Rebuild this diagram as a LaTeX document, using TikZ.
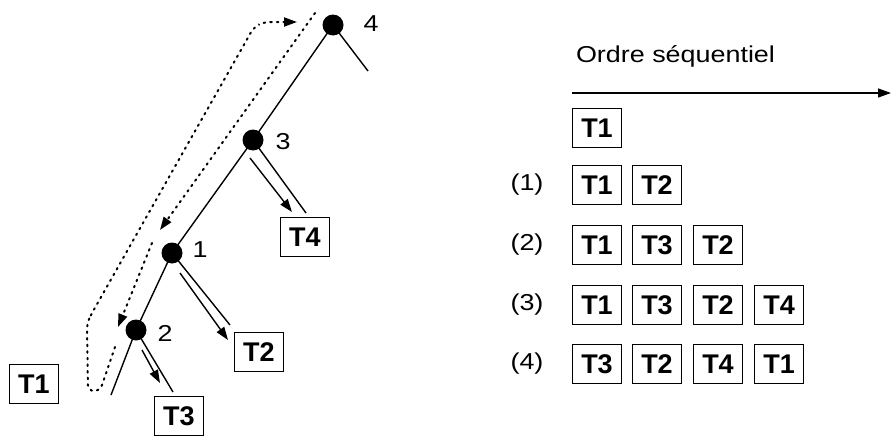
\documentclass[tikz,border=0pt]{standalone}
\usepackage{fontspec}
\setmainfont[FakeStretch=1.17]{Liberation Sans}
\newfontfamily\taskfont{Liberation Sans}
\usepackage{tikz}
\usetikzlibrary{positioning,arrows.meta}

\begin{document}
\begin{tikzpicture}[x=1pt, y=-1pt,
        tbox/.style={draw, rectangle, line width=1.4pt, minimum width=49pt, minimum height=39pt, inner sep=0pt, font=\taskfont\fontsize{27}{30}\selectfont\bfseries},
        dot/.style={circle, fill, inner sep=0pt, minimum size=21pt},
        lbl/.style={font=\fontsize{23}{27}\selectfont},
        tip/.style={-{Triangle[length=13pt, width=9pt]}},
        trav/.style={line width=2pt, dash pattern=on 1.6pt off 5pt, line cap=round},
        line width=1.4pt]
            \useasboundingbox (0,0) rectangle (892,439);

            %% Tree
            % Nodes of the tree with their numbers
            \node[dot] (n4) at (333, 25) {};
            \node[dot] (n3) at (253, 140) {};
            \node[dot] (n1) at (172, 253) {};
            \node[dot] (n2) at (136, 330) {};
            \node[lbl] (n4_num) at (371, 24) {4};
            \node[lbl] (n3_num) at (283, 142) {3};
            \node[lbl] (n1_num) at (200, 250) {1};
            \node[lbl] (n2_num) at (165, 333) {2};

            % Tasks attached to the tree
            \node[tbox] (t4) at (305, 237) {T4};
            \node[tbox] (t2) at (259, 352) {T2};
            \node[tbox] (t3) at (179, 416) {T3};
            \node[tbox] (t1) at (34, 384) {T1};

            % Free ends of the branches
            \coordinate (leaf4) at (368, 71);
            \coordinate (leaf2) at (111, 395);
            \coordinate (end3) at (306, 213);
            \coordinate (end1) at (230, 325);
            \coordinate (end2) at (173, 392);

            % Branches
            \draw (n4.center) -- (n3.center) -- (n1.center) -- (n2.center) -- (leaf2);
            \draw (n4.center) -- (leaf4);
            \draw (n3.center) -- (end3);
            \draw (n1.center) -- (end1);
            \draw (n2.center) -- (end2);

            % Arrows along the branches towards the tasks
            \coordinate (go3) at (250, 158);
            \coordinate (to4) at (292, 212);
            \coordinate (go1) at (180, 273);
            \coordinate (to2) at (228, 340);
            \coordinate (go2) at (142, 350);
            \coordinate (to3) at (160, 383);
            \draw[tip] (go3) -- (to4);
            \draw[tip] (go1) -- (to2);
            \draw[tip] (go2) -- (to3);

            %% Traversal (dotted)
            \coordinate (down_a) at (315, 13);
            \coordinate (down_b) at (160, 230);
            \coordinate (down_c) at (152, 243);
            \coordinate (down_d) at (118, 327);
            \coordinate (up_a) at (115, 347);
            \coordinate (up_b) at (297, 22);
            \draw[trav, tip] (down_a) -- (down_b);
            \draw[trav, tip] (down_c) -- (down_d);
            \draw[trav, tip, rounded corners=6pt] (up_a) -- (100, 391) -- (88, 391) -- (87, 323) -- (92, 313) -- (254, 27) -- (264, 22) -- (up_b);

            %% Sequential order
            \node[lbl, anchor=base west] (title) at (572, 62) {Ordre séquentiel};
            \coordinate (axis_a) at (572, 93);
            \coordinate (axis_b) at (891, 93);
            \draw[tip] (axis_a) -- (axis_b);

            % Start
            \node[tbox] (s0_a) at (597, 128) {T1};

            % Step (1)
            \node[lbl] (s1) at (527, 185) {(1)};
            \node[tbox] (s1_a) at (597, 185) {T1};
            \node[tbox] (s1_b) at (657, 185) {T2};

            % Step (2)
            \node[lbl] (s2) at (527, 245) {(2)};
            \node[tbox] (s2_a) at (597, 245) {T1};
            \node[tbox] (s2_b) at (657, 245) {T3};
            \node[tbox] (s2_c) at (718, 245) {T2};

            % Step (3)
            \node[lbl] (s3) at (527, 305) {(3)};
            \node[tbox] (s3_a) at (597, 305) {T1};
            \node[tbox] (s3_b) at (657, 305) {T3};
            \node[tbox] (s3_c) at (718, 305) {T2};
            \node[tbox] (s3_d) at (779, 305) {T4};

            % Step (4)
            \node[lbl] (s4) at (527, 364) {(4)};
            \node[tbox] (s4_a) at (597, 364) {T3};
            \node[tbox] (s4_b) at (657, 364) {T2};
            \node[tbox] (s4_c) at (718, 364) {T4};
            \node[tbox] (s4_d) at (779, 364) {T1};

        \end{tikzpicture}
\end{document}
